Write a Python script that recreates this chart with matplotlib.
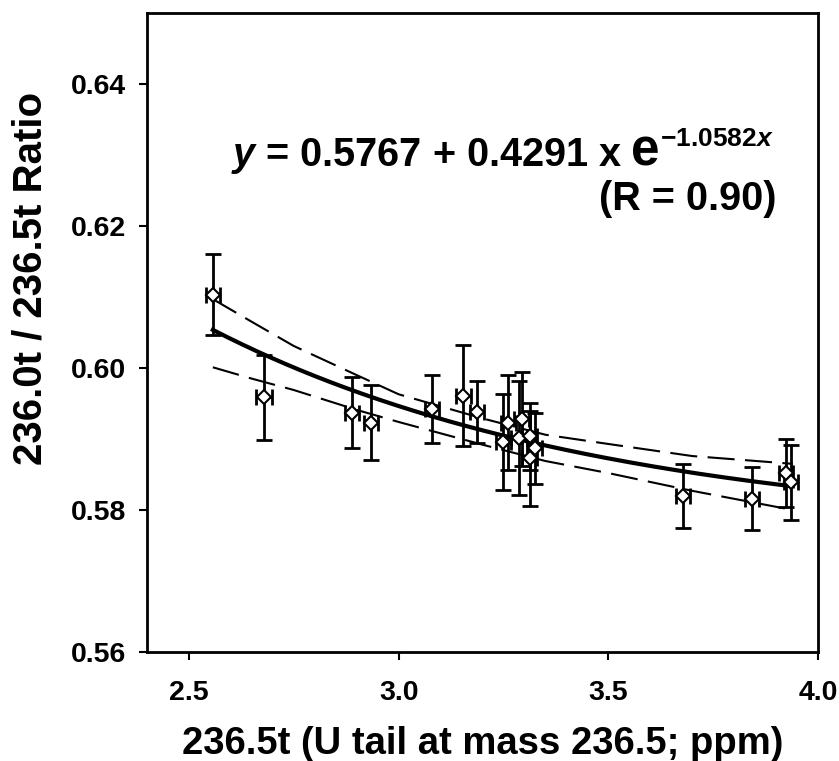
import numpy as np
import matplotlib
matplotlib.use("Agg")
import matplotlib.pyplot as plt

plt.rcParams['font.family'] = ['Liberation Sans', 'DejaVu Sans']
plt.rcParams['font.weight'] = 'bold'
plt.rcParams['mathtext.fontset'] = 'custom'
plt.rcParams['mathtext.rm'] = 'Liberation Sans:bold'
plt.rcParams['mathtext.it'] = 'Liberation Sans:italic:bold'
plt.rcParams['mathtext.bf'] = 'Liberation Sans:bold'

# measured points (236.5t tail, ratio) with error bars
x_vals = [2.557, 2.679, 2.889, 2.934, 3.080, 3.154, 3.187, 3.249, 3.261,
          3.287, 3.294, 3.313, 3.313, 3.325, 3.678, 3.843, 3.923, 3.935]
y_vals = [0.6103, 0.5959, 0.5937, 0.5923, 0.5942, 0.5961, 0.5938, 0.5896, 0.5923,
          0.5901, 0.5928, 0.5904, 0.5873, 0.5887, 0.5820, 0.5816, 0.5852, 0.5839]
y_err = [0.0057, 0.0060, 0.0050, 0.0053, 0.0048, 0.0071, 0.0044, 0.0068, 0.0067,
         0.0080, 0.0066, 0.0047, 0.0067, 0.0050, 0.0045, 0.0044, 0.0048, 0.0053]
x_err = [0.017, 0.018, 0.017, 0.017, 0.017, 0.018, 0.017, 0.018, 0.018,
         0.018, 0.018, 0.018, 0.018, 0.018, 0.017, 0.017, 0.017, 0.017]

# fit parameters as printed on the chart: y = a + b * exp(k x)
fit_a, fit_b, fit_k = 0.5767, 0.4291, -1.0582
fit_xmin, fit_xmax = 2.557, 3.94

# confidence band
band_x = [2.557, 2.65, 2.75, 2.9, 3.0, 3.2, 3.35, 3.5, 3.7, 3.94]
band_hi = [0.6097, 0.6065, 0.6031, 0.5990, 0.5963, 0.5929, 0.5906, 0.5893, 0.5876, 0.5865]
band_lo = [0.6001, 0.5985, 0.5969, 0.5941, 0.5924, 0.5892, 0.5869, 0.5852, 0.5827, 0.5800]

x_ticks = [2.5, 3.0, 3.5, 4.0]
y_ticks = [0.56, 0.58, 0.60, 0.62, 0.64]

fig = plt.figure(figsize=(8.39, 7.61), dpi=100)
ax = fig.add_axes([147 / 839, (761 - 652) / 761, (818 - 147) / 839, (652 - 13) / 761])

xf = np.linspace(fit_xmin, fit_xmax, 200)
ax.plot(xf, fit_a + fit_b * np.exp(fit_k * xf), color='black', lw=3, zorder=2)
ax.plot(band_x, band_hi, color='black', lw=1.5, dashes=(13, 5), zorder=2)
ax.plot(band_x, band_lo, color='black', lw=1.5, dashes=(13, 5), zorder=2)

ax.errorbar(x_vals, y_vals, yerr=y_err, xerr=x_err, fmt='none', ecolor='black',
            elinewidth=2, capsize=6, capthick=2, zorder=3)
ax.plot(x_vals, y_vals, 'D', ms=7.5, mfc='white', mec='black', mew=1.5, zorder=4)

ax.set_xlim(2.4, 4.0)
ax.set_ylim(0.56, 0.65)
ax.set_xticks(x_ticks)
ax.set_xticklabels(['%.1f' % v for v in x_ticks])
ax.set_yticks(y_ticks)
ax.set_yticklabels(['%.2f' % v for v in y_ticks])
ax.tick_params(axis='both', direction='out', length=6, width=1.5, labelsize=20.5)
ax.tick_params(axis='x', pad=14)
ax.tick_params(axis='y', pad=9)
for s in ax.spines.values():
    s.set_linewidth(2)

ax.set_xlabel('236.5t (U tail at mass 236.5; ppm)', fontsize=27.5, fontweight='bold')
ax.xaxis.set_label_coords(0.5, -0.116)
ax.set_ylabel('236.0t / 236.5t Ratio', fontsize=29, fontweight='bold')
ax.yaxis.set_label_coords(-(147 - 50) / 671, 0.585)

# equation: main part, a larger "e", then the exponent
eq_x, eq_y = 2.6, 0.6285
t1 = ax.text(eq_x, eq_y, r'$y$ = 0.5767 + 0.4291 x', fontsize=28.5,
             fontweight='bold', ha='left', va='baseline')
fig.canvas.draw()
w1 = t1.get_window_extent().width + 9
t2 = ax.annotate('e', xy=(eq_x, eq_y), xytext=(w1, 0), textcoords='offset pixels',
                 fontsize=37, fontweight='bold', ha='left', va='baseline')
fig.canvas.draw()
w2 = t2.get_window_extent().width
ax.annotate(r'$-$1.0582$x$', xy=(eq_x, eq_y), xytext=(w1 + w2, 20),
            textcoords='offset pixels', fontsize=19, fontweight='bold',
            ha='left', va='baseline')
ax.text(3.902, 0.6222, '(R = 0.90)', fontsize=28.5, fontweight='bold', ha='right', va='baseline')

fig.savefig('out.png', dpi=100)
